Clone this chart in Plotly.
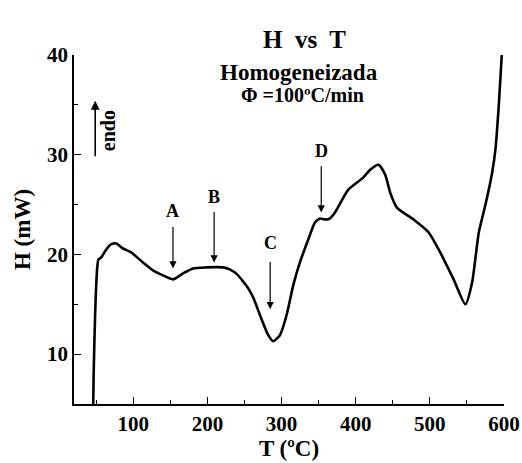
import plotly.graph_objects as go

T = [45.0, 46.5, 48.5, 50.0, 51.5, 53.0, 56.7, 63.5, 70, 77, 86, 97, 113, 126.5, 140, 153.5,
     167, 180.5, 198.6, 221, 230, 240, 248, 255, 261.6, 273, 282, 288.6, 297.7, 306.7, 315.7,
     324.7, 336, 345, 352, 358.5, 365, 372, 390, 410, 419.5, 430.7, 439.7, 446.5, 455.5, 478,
     498.4, 514, 532, 548, 557, 566, 575, 584, 588.4, 593, 597]
H = [0, 8, 14, 17.0, 18.8, 19.5, 19.7, 20.5, 21.0, 21.1, 20.6, 20.2, 19.2, 18.4, 17.9, 17.5,
     18.1, 18.6, 18.7, 18.7, 18.5, 18.0, 17.3, 16.6, 15.7, 13.5, 11.9, 11.3, 11.9, 13.9, 16.9,
     19.2, 21.5, 23.2, 23.6, 23.5, 23.6, 24.2, 26.5, 27.7, 28.5, 29.0, 28.0, 26.2, 24.7, 23.5,
     22.2, 20.2, 17.5, 15.0, 17.2, 22.2, 25.0, 28.2, 30.5, 35.0, 40.0]

labels = ["A", "B", "C", "D"]
label_T = [153.5, 209, 284.6, 353.5]
label_H = [24.4, 25.8, 21.1, 30.4]
arrow_tail_H = [22.9, 24.4, 19.4, 29.0]
arrow_head_H = [18.6, 19.2, 14.5, 24.2]

FONT = "Liberation Serif"
L, R, TOP, BOT = 74, 504, 55, 404
PW, PH = R - L, BOT - TOP

fig = go.Figure()
fig.add_trace(go.Scatter(x=T, y=H, mode="lines",
                         line=dict(color="black", width=2.6, shape="spline", smoothing=0.6),
                         showlegend=False, hoverinfo="skip"))

for lab, tx, ly, ty, hy in zip(labels, label_T, label_H, arrow_tail_H, arrow_head_H):
    fig.add_annotation(x=tx, y=ly, text="<b>" + lab + "</b>", showarrow=False, xref="x", yref="y",
                       font=dict(family=FONT, size=18, color="black"))
    fig.add_annotation(x=tx, y=hy, ax=tx, ay=ty, xref="x", yref="y", axref="x", ayref="y",
                       text="", showarrow=True, arrowhead=2, arrowsize=1.2, arrowwidth=1.2,
                       arrowcolor="black")

# endo arrow
fig.add_annotation(x=48.6, y=35.4, ax=48.6, ay=29.7, xref="x", yref="y", axref="x", ayref="y",
                   text="", showarrow=True, arrowhead=2, arrowsize=1.1, arrowwidth=1.6,
                   arrowcolor="black")
fig.add_annotation(x=65, y=32.4, text="<b>endo</b>", textangle=-90, showarrow=False, xref="x", yref="y",
                   font=dict(family=FONT, size=20, color="black"))

# titles
fig.add_annotation(text="<b>H  vs  T</b>", x=(304 - L) / PW, y=1 + (TOP - 24) / PH, xref="paper", yref="paper",
                   showarrow=False, font=dict(family=FONT, size=25, color="black"))
fig.add_annotation(text="<b>Homogeneizada</b>", x=(299 - L) / PW, y=1 + (TOP - 58) / PH, xref="paper", yref="paper",
                   showarrow=False, font=dict(family=FONT, size=23, color="black"))
fig.add_annotation(text="<b>Φ =100ºC/min</b>", x=(302 - L) / PW, y=1 + (TOP - 82) / PH, xref="paper", yref="paper",
                   showarrow=False, font=dict(family=FONT, size=20, color="black"))

axis_common = dict(showline=True, linecolor="black", linewidth=1.5, ticks="inside", ticklen=7,
                   tickwidth=1.3, tickcolor="black", showgrid=False, zeroline=False,
                   tickfont=dict(family=FONT, size=21, color="black", weight="bold"),
                   mirror=False, automargin=False)

fig.update_xaxes(range=[20, 600], dtick=100, tick0=0,
                 minor=dict(dtick=50, tick0=0, ticks="inside", ticklen=4, tickcolor="black", tickwidth=1.2),
                 title=dict(text="<b>T (ºC)</b>", font=dict(family=FONT, size=23, color="black"),
                            standoff=4),
                 **axis_common)
fig.update_yaxes(range=[5, 40], dtick=10, tick0=0,
                 minor=dict(dtick=5, tick0=0, ticks="inside", ticklen=4, tickcolor="black", tickwidth=1.2),
                 title=dict(text="<b>H (mW)</b>", font=dict(family=FONT, size=23, color="black"),
                            standoff=10),
                 **axis_common)

fig.update_layout(width=522, height=463, margin=dict(l=L, r=522 - R, t=TOP, b=463 - BOT),
                  paper_bgcolor="white", plot_bgcolor="white", showlegend=False)

fig.write_html("out.html", config={"displayModeBar": False},
               post_script="document.body.style.margin='0px';")
